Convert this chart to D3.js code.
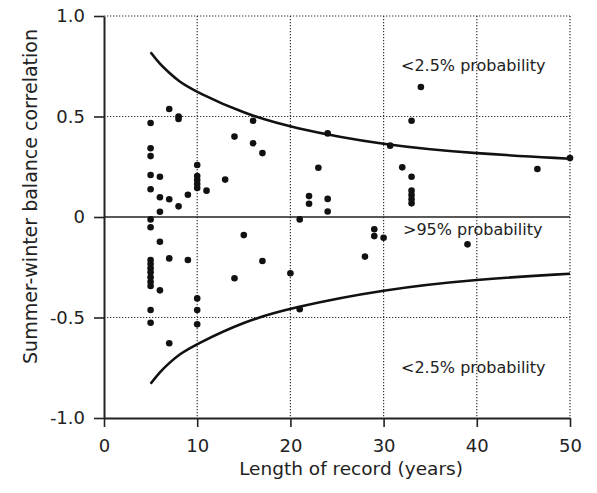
<!DOCTYPE html>
<html>
<head>
<meta charset="utf-8">
<script src="https://cdn.jsdelivr.net/npm/d3@7"></script>
<style>
  body { margin: 0; background: #fff; }
  text { font-family: "DejaVu Sans", sans-serif; fill: #222; }
</style>
</head>
<body>
<script>
// record length (years) and summer-winter balance correlation
var recordYears = [5, 5, 5, 5, 5, 5, 5, 5, 5, 5, 5, 5, 5, 5, 5, 5,
  6, 6, 6, 6, 6, 7, 7, 7, 7, 8, 8, 8, 9, 9,
  10, 10, 10, 10, 10, 10, 10, 10, 11, 13, 14, 14, 15, 16, 16, 17, 17,
  20, 21, 21, 22, 22, 23, 24, 24, 24, 28, 29, 29, 30, 30.7, 32,
  33, 33, 33, 33, 33, 33, 34, 39, 46.5, 50];
var correlation = [0.468, 0.342, 0.303, 0.209, 0.138, -0.012, -0.051, -0.214, -0.234, -0.255, -0.275, -0.3, -0.322, -0.343, -0.463, -0.526,
  0.2, 0.098, 0.026, -0.123, -0.365, 0.537, 0.088, -0.206, -0.628, 0.5, 0.488, 0.053, 0.111, -0.214,
  0.259, 0.204, 0.184, 0.164, 0.144, -0.405, -0.463, -0.534, 0.131, 0.186, 0.4, -0.305, -0.09, 0.479, 0.367, 0.318, -0.219,
  -0.28, -0.012, -0.459, 0.104, 0.066, 0.245, 0.416, 0.09, 0.027, -0.197, -0.061, -0.095, -0.103, 0.355, 0.247,
  0.479, 0.2, 0.131, 0.109, 0.088, 0.068, 0.647, -0.136, 0.239, 0.293];

// significance limits
var limitYears = [5, 6, 7, 8, 10, 15, 20, 30, 40, 50];
var upperLimit = [0.82, 0.76, 0.718, 0.675, 0.62, 0.515, 0.445, 0.357, 0.315, 0.29];
var lowerLimit = [-0.83, -0.77, -0.727, -0.685, -0.63, -0.52, -0.452, -0.36, -0.31, -0.282];

var xTicks = [0, 10, 20, 30, 40, 50];
var yTicks = [-1, -0.5, 0, 0.5, 1];
var yTickLabels = ["-1.0", "-0.5", "0", "0.5", "1.0"];

var width = 597, height = 493;

var svg = d3.select("body").append("svg")
    .attr("width", width)
    .attr("height", height);

var x = d3.scaleLinear().domain([0, 50]).range([104, 570]);
var y = d3.scaleLinear().domain([-1, 1]).range([418, 16]);

// dotted grid, incl. top and right frame
svg.selectAll(".vgrid")
    .data(xTicks.slice(1))
    .enter().append("line")
    .attr("class", "vgrid")
    .attr("x1", function(d){ return x(d); })
    .attr("x2", function(d){ return x(d); })
    .attr("y1", y(1)).attr("y2", y(-1))
    .attr("stroke", "#333").attr("stroke-width", 1.2)
    .attr("stroke-dasharray", "1.3,1.7");

svg.selectAll(".hgrid")
    .data([1, 0.5, -0.5])
    .enter().append("line")
    .attr("class", "hgrid")
    .attr("x1", x(0)).attr("x2", x(50))
    .attr("y1", function(d){ return y(d); })
    .attr("y2", function(d){ return y(d); })
    .attr("stroke", "#333").attr("stroke-width", 1.2)
    .attr("stroke-dasharray", "1.3,1.7");

// zero line
svg.append("line")
    .attr("x1", x(0)).attr("x2", x(50))
    .attr("y1", y(0)).attr("y2", y(0))
    .attr("stroke", "#222").attr("stroke-width", 1.5);

// axes
var xAxis = svg.append("g")
    .attr("transform", "translate(0," + y(-1) + ")")
    .call(d3.axisBottom(x).tickValues(xTicks).tickSize(9).tickSizeOuter(0).tickPadding(12));

var yAxis = svg.append("g")
    .attr("transform", "translate(" + x(0) + ",0)")
    .call(d3.axisLeft(y).tickValues(yTicks).tickSize(10).tickSizeOuter(0).tickPadding(9)
      .tickFormat(function(d, i){ return yTickLabels[i]; }));

[xAxis, yAxis].forEach(function(g){
  g.select(".domain").attr("stroke", "#222").attr("stroke-width", 2);
  g.selectAll(".tick line").attr("stroke", "#222").attr("stroke-width", 1.6);
  g.selectAll(".tick text").attr("font-size", 18).attr("font-family", "DejaVu Sans").attr("fill", "#222");
});

// limit curves
var line = d3.line()
    .x(function(d){ return x(d[0]); })
    .y(function(d){ return y(d[1]); })
    .curve(d3.curveBasis);

[upperLimit, lowerLimit].forEach(function(lim){
  svg.append("path")
    .datum(limitYears.map(function(v, i){ return [v, lim[i]]; }))
    .attr("d", line)
    .attr("fill", "none")
    .attr("stroke", "#111")
    .attr("stroke-width", 2.6);
});

// points
svg.selectAll(".dot")
    .data(recordYears.map(function(v, i){ return [v, correlation[i]]; }))
    .enter().append("circle")
    .attr("class", "dot")
    .attr("cx", function(d){ return x(d[0]); })
    .attr("cy", function(d){ return y(d[1]); })
    .attr("r", 3.3)
    .attr("fill", "#111");

// region labels
var notes = [["<2.5% probability", 401, 71], [">95% probability", 403, 235], ["<2.5% probability", 401, 373]];
svg.selectAll(".note")
    .data(notes)
    .enter().append("text")
    .attr("class", "note")
    .attr("x", function(d){ return d[1]; })
    .attr("y", function(d){ return d[2]; })
    .attr("font-size", 16)
    .text(function(d){ return d[0]; });

// axis titles
svg.append("text")
    .attr("x", 351).attr("y", 475)
    .attr("text-anchor", "middle")
    .attr("font-size", 18.5)
    .text("Length of record (years)");

svg.append("text")
    .attr("transform", "translate(37,196.5) rotate(-90)")
    .attr("text-anchor", "middle")
    .attr("font-size", 19)
    .text("Summer-winter balance correlation");
</script>
</body>
</html>
